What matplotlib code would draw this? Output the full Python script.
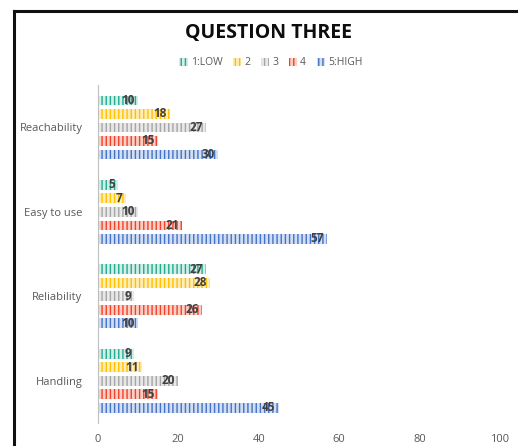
import numpy as np
import matplotlib
matplotlib.use('Agg')
import matplotlib.pyplot as plt
from matplotlib.lines import Line2D

categories = ['Reachability', 'Easy to use', 'Reliability', 'Handling']
series_names = ['1:LOW', '2', '3', '4', '5:HIGH']
low = [10, 5, 27, 9]
two = [18, 7, 28, 11]
three = [27, 10, 9, 20]
four = [15, 21, 26, 15]
high = [30, 57, 10, 45]

colors = ['#27A98E', '#FFC000', '#A5A5A5', '#F0412A', '#4472C4']
backs = ['#CFEFE8', '#FFEDB8', '#E8E8E8', '#FCCFC4', '#D2DEF3']

plt.rcParams['font.family'] = ['Open Sans', 'DejaVu Sans']
plt.rcParams['hatch.linewidth'] = 1.0

fig = plt.figure(figsize=(5.18, 4.46), dpi=100)
ax = fig.add_axes([0.189, 0.0516, 0.776, 0.7574])

values = [low, two, three, four, high]
ypos = np.arange(len(categories))[::-1]  # Reachability at top
bar_h = 0.115
pitch = 0.16
for i, (vals, name) in enumerate(zip(values, series_names)):
    y = ypos + (2 - i) * pitch
    bars = ax.barh(y, vals, height=bar_h, color=backs[i], edgecolor=colors[i],
                   hatch='||||', linewidth=0, label=name)
    for b, v in zip(bars, vals):
        ax.text(b.get_width() - 0.8, b.get_y() + b.get_height() / 2, str(v),
                ha='right', va='center', fontsize=8.5, fontweight='bold',
                color='#404040')

ax.set_xlim(0, 100)
ax.set_ylim(-0.5, 3.5)
ax.set_xticks([0, 20, 40, 60, 80, 100])
ax.set_yticks(ypos)
ax.set_yticklabels(categories)
ax.tick_params(axis='both', length=0, labelsize=8, colors='#595959', pad=8)
ax.tick_params(axis='y', pad=11)
for s in ['top', 'right', 'bottom']:
    ax.spines[s].set_visible(False)
ax.spines['left'].set_color('#BFBFBF')

fig.text(0.519, 0.926, 'QUESTION THREE', ha='center', va='center',
         fontsize=14, fontweight='bold', color='#0D0D0D')

handles = [plt.Rectangle((0, 0), 1, 1, facecolor=backs[i], edgecolor=colors[i],
                         hatch='||||', linewidth=0) for i in range(5)]
fig.legend(handles, series_names, loc='center', bbox_to_anchor=(0.523, 0.859),
           ncol=5, frameon=False, fontsize=7.5, handlelength=0.8, handleheight=0.8,
           handletextpad=0.3, columnspacing=1.0, labelcolor='#595959')

# outer chart border (top and left only visible)
fig.add_artist(Line2D([0.027, 1.0], [0.975, 0.975], color='#111111', lw=2.2,
                      transform=fig.transFigure))
fig.add_artist(Line2D([0.027, 0.027], [0.975, 0.0], color='#111111', lw=2.2,
                      transform=fig.transFigure))

fig.savefig('out.png', dpi=100)
